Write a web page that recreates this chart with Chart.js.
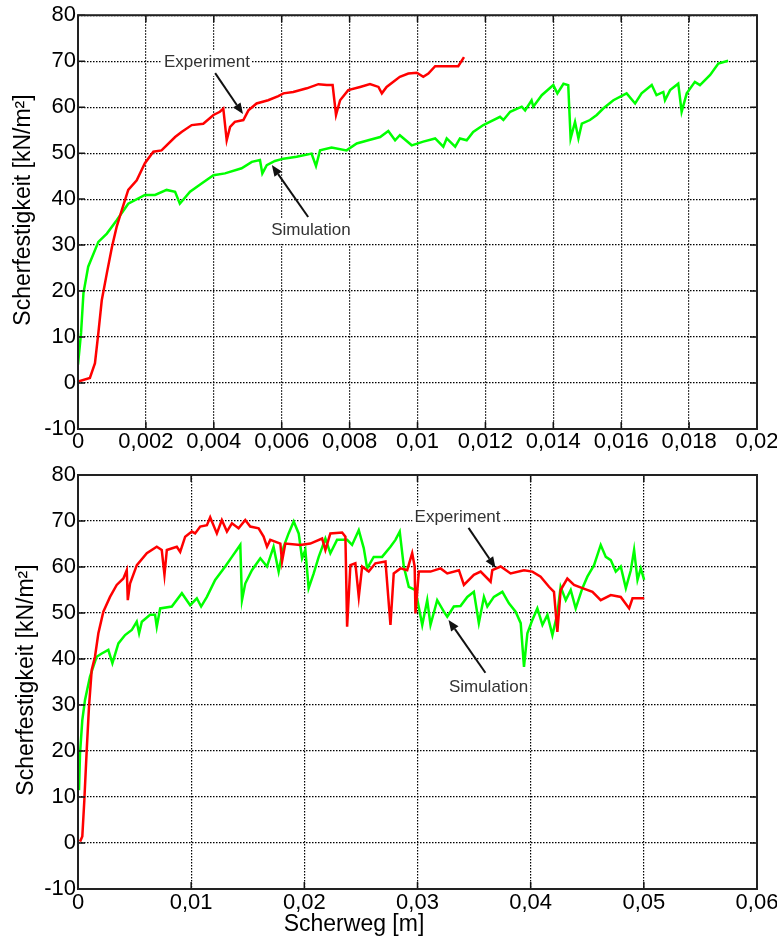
<!DOCTYPE html>
<html lang="de">
<head>
<meta charset="UTF-8">
<title>Scherfestigkeit - Experiment und Simulation</title>
<script src="https://cdn.jsdelivr.net/npm/chart.js"></script>
<style>
  html, body { margin: 0; padding: 0; background: #fff; }
  .wrap { position: relative; width: 777px; height: 940px; }
  .box { position: absolute; left: 0; width: 777px; }
  #top { top: 0; height: 456px; }
  #bottom { top: 456px; height: 484px; }
</style>
</head>
<body>
<div class="wrap">
  <div class="box" id="top"><canvas id="chartTop"></canvas></div>
  <div class="box" id="bottom"><canvas id="chartBottom"></canvas></div>
</div>

<script>
// tick labels
const yLabels = ['-10', '0', '10', '20', '30', '40', '50', '60', '70', '80'];
const topXLabels = ['0', '0,002', '0,004', '0,006', '0,008', '0,01', '0,012', '0,014', '0,016', '0,018', '0,02'];
const bottomXLabels = ['0', '0,01', '0,02', '0,03', '0,04', '0,05', '0,06'];

// upper chart: Experiment (red)
const topExpX = [
  0, 0.00035, 0.0005, 0.0006, 0.0007, 0.00085, 0.001, 0.00114, 0.00129, 0.00148,
  0.00173, 0.00197, 0.00222, 0.00246, 0.00286, 0.00305, 0.00335, 0.00369, 0.00399, 0.00418,
  0.00428, 0.00438, 0.00448, 0.00462, 0.00487, 0.00502, 0.00526, 0.0056, 0.0059, 0.00605,
  0.00634, 0.00674, 0.00708, 0.00733, 0.0075, 0.0076, 0.00772, 0.00796, 0.00831, 0.0086,
  0.00885, 0.00895, 0.00909, 0.00948, 0.00973, 0.00998, 0.01017, 0.01032, 0.01052, 0.0112,
  0.01137
];
const topExpY = [
  0.3, 1.1, 4.3, 10.9, 18, 23.9, 29.6, 34, 37.6, 42,
  44.1, 47.8, 50.3, 50.6, 53.5, 54.6, 56.1, 56.4, 58.3, 59,
  59.7, 52.8, 55.7, 56.8, 57.2, 59.3, 60.8, 61.5, 62.4, 63,
  63.3, 64.1, 65, 64.8, 64.8, 58.3, 61.5, 63.7, 64.4, 65,
  64.4, 63, 64.4, 66.6, 67.3, 67.5, 66.6, 67.3, 68.9, 68.9,
  70.9
];

// upper chart: Simulation (green)
const topSimX = [
  0, 0.00009, 0.00016, 0.0003, 0.0006, 0.00085, 0.00114, 0.00148, 0.00197, 0.00227,
  0.00261, 0.00286, 0.003, 0.0033, 0.00364, 0.00399, 0.00433, 0.00482, 0.00512, 0.00536,
  0.00543, 0.00556, 0.0058, 0.00605, 0.00644, 0.00688, 0.00701, 0.00713, 0.00747, 0.00791,
  0.00821, 0.00855, 0.0089, 0.00914, 0.00934, 0.00948, 0.00983, 0.01017, 0.01052, 0.01076,
  0.01086, 0.01111, 0.01125, 0.01145, 0.01164, 0.01194, 0.01243, 0.01253, 0.01273, 0.01307,
  0.01317, 0.01336, 0.01341, 0.01366, 0.014, 0.01412, 0.0143, 0.01444, 0.01451, 0.01464,
  0.01474, 0.01484, 0.01508, 0.01528, 0.01547, 0.01577, 0.01616, 0.01641, 0.0166, 0.0169,
  0.01704, 0.01724, 0.01729, 0.01744, 0.01768, 0.01778, 0.01793, 0.01817, 0.01832, 0.01862,
  0.01886, 0.01915
];
const topSimY = [
  4, 10.9, 19.5, 25.3, 30.7, 32.5, 35.4, 39, 40.9, 40.9,
  42, 41.6, 39, 41.6, 43.4, 45.2, 45.6, 46.7, 48.1, 48.5,
  45.6, 47.4, 48.3, 48.8, 49.2, 49.9, 47.2, 50.6, 51.2, 50.6,
  52.1, 52.8, 53.5, 54.8, 52.8, 53.9, 51.7, 52.5, 53.2, 51.4,
  53.2, 51.4, 53.2, 52.8, 54.6, 56.1, 57.9, 57.2, 59, 60.1,
  59.3, 61.5, 60.1, 62.6, 64.8, 63, 65.1, 64.8, 53.2, 56.8,
  53.2, 56.4, 57.2, 58.3, 59.7, 61.5, 63, 60.8, 63, 64.8,
  62.6, 63.3, 61.5, 63.7, 65.1, 59, 63, 65.5, 64.8, 67,
  69.5, 70.1
];

// lower chart: Experiment (red)
const botExpX = [
  0.00018, 0.00038, 0.00056, 0.00077, 0.00097, 0.00121, 0.0015, 0.0018, 0.00224, 0.00283,
  0.00342, 0.00401, 0.00431, 0.0044, 0.0046, 0.0052, 0.00608, 0.00696, 0.0074, 0.00764,
  0.00785, 0.00873, 0.00903, 0.00947, 0.01006, 0.01035, 0.0108, 0.01139, 0.01168, 0.01227,
  0.01271, 0.01316, 0.0136, 0.01419, 0.01478, 0.01522, 0.01596, 0.0164, 0.0167, 0.01699,
  0.01788, 0.01803, 0.01832, 0.01965, 0.02053, 0.02157, 0.02186, 0.0223, 0.02334, 0.02363,
  0.02378, 0.02407, 0.02451, 0.02481, 0.02511, 0.02569, 0.02628, 0.02717, 0.02761, 0.0279,
  0.0285, 0.02909, 0.02953, 0.02975, 0.02982, 0.03012, 0.03115, 0.03204, 0.03263, 0.03366,
  0.0341, 0.03498, 0.03558, 0.03646, 0.03661, 0.03735, 0.03823, 0.03941, 0.04015, 0.04088,
  0.04162, 0.04206, 0.04236, 0.04265, 0.04324, 0.04383, 0.04457, 0.04546, 0.04619, 0.04708,
  0.04796, 0.0487, 0.049, 0.05003
];
const botExpY = [
  0.3, 1.4, 9.3, 20.2, 29.6, 37.6, 40.5, 45.6, 50.3, 53.5,
  56.1, 57.5, 59.3, 52.8, 56.4, 60.4, 63, 64.4, 63.7, 58.3,
  63.7, 64.4, 63.3, 66.6, 67.7, 67.3, 68.8, 69.1, 70.8, 67.3,
  70.2, 67.7, 69.5, 68.4, 70.2, 68.8, 68.4, 66.6, 64.4, 65.9,
  65.1, 61.2, 65.1, 64.8, 65.1, 66.2, 63.7, 67.3, 67.5, 66.6,
  47, 60.4, 60.8, 53.5, 60.1, 59, 60.8, 61.2, 47.4, 58.6,
  59.7, 59.3, 63, 60.1, 49.9, 59, 59, 59.7, 58.6, 59.3,
  56.1, 58.3, 59, 56.8, 59.3, 60.1, 58.6, 59.3, 59, 57.9,
  55.7, 54.6, 45.9, 55, 57.5, 56.1, 55.4, 54.6, 52.8, 53.9,
  53.5, 51, 53.2, 53.2
];

// lower chart: Simulation (green)
const botSimX = [
  0.00009, 0.00018, 0.00038, 0.00062, 0.00106, 0.00165, 0.0021, 0.00268, 0.00304, 0.00357,
  0.00416, 0.00475, 0.00519, 0.0054, 0.00564, 0.00637, 0.00681, 0.00696, 0.00726, 0.00829,
  0.00918, 0.00991, 0.0105, 0.01088, 0.01139, 0.01212, 0.01301, 0.0136, 0.01434, 0.01449,
  0.01478, 0.01537, 0.01611, 0.0167, 0.01728, 0.01773, 0.01817, 0.01861, 0.01906, 0.0195,
  0.0198, 0.02009, 0.02038, 0.02083, 0.02127, 0.02186, 0.0223, 0.02289, 0.02378, 0.02422,
  0.02481, 0.02525, 0.02555, 0.02613, 0.02687, 0.02761, 0.02805, 0.02843, 0.02879, 0.02923,
  0.02982, 0.03042, 0.03086, 0.03115, 0.03174, 0.03233, 0.03263, 0.03321, 0.0338, 0.0344,
  0.03498, 0.03542, 0.03587, 0.03617, 0.03675, 0.0375, 0.03808, 0.03867, 0.03912, 0.03941,
  0.03971, 0.04015, 0.04059, 0.04104, 0.04148, 0.04192, 0.04236, 0.04265, 0.0431, 0.04354,
  0.04398, 0.04457, 0.04501, 0.0456, 0.04619, 0.04664, 0.04708, 0.04752, 0.04796, 0.04841,
  0.04885, 0.04914, 0.04944, 0.04973, 0.05003
];
const botSimY = [
  11.5, 19.5, 26.7, 31.1, 36.2, 40.5, 41.2, 42, 39.1, 43.4,
  45.2, 46.3, 48.1, 45.6, 48.1, 49.6, 49.6, 47, 51, 51.4,
  54.3, 51.7, 53.2, 51.4, 53.5, 57.2, 60.1, 62.2, 64.8, 52.8,
  56.4, 59.3, 61.9, 60.1, 64.4, 59, 64.4, 67.3, 69.9, 67.3,
  61.9, 63.7, 55.4, 58.6, 62.2, 66.2, 63, 65.9, 65.9, 64.8,
  68, 64.1, 59.7, 62.2, 62.2, 64.4, 65.9, 67.7, 60.1, 55.7,
  55, 47.4, 52.8, 47.4, 52.8, 50.3, 49.2, 51.4, 51.5, 53.5,
  54.6, 47.8, 53.5, 51.4, 53.5, 54.6, 52.1, 50.3, 47.8, 38.3,
  45.6, 48.5, 51, 47.4, 49.6, 45.2, 49.9, 55.7, 52.8, 55,
  51, 55.4, 57.9, 60.4, 64.8, 62.2, 61.5, 59, 60.1, 55.4,
  59.3, 63.7, 57.2, 59.7, 57.2
];

// annotation text + arrow (data units): text at (tx,ty), arrow from (x0,y0) to (x1,y1)
const topNotes = [
  { text: 'Experiment', tx: 0.0038, ty: 69.8, x0: 0.00404, y0: 67.4, x1: 0.00486, y1: 58.5 },
  { text: 'Simulation', tx: 0.00686, ty: 33.3, x0: 0.00678, y0: 36.1, x1: 0.00571, y1: 47.4 }
];
const bottomNotes = [
  { text: 'Experiment', tx: 0.03354, ty: 70.9, x0: 0.03451, y0: 68.5, x1: 0.0369, y1: 59.8 },
  { text: 'Simulation', tx: 0.03628, ty: 33.9, x0: 0.036, y0: 37, x1: 0.03274, y1: 48.5 }
];

const yTitle = 'Scherfestigkeit [kN/m²]';
const xTitle = 'Scherweg [m]';

Chart.defaults.font.family = "'Liberation Sans', Arial, sans-serif";
Chart.defaults.color = '#000';

function toPoints(xs, ys) {
  return xs.map((x, i) => ({ x: x, y: ys[i] }));
}

// solid frame round the plot + short inward ticks (matlab style)
const framePlugin = {
  id: 'frame',
  afterDatasetsDraw(chart) {
    const { ctx, chartArea: a, scales } = chart;
    ctx.save();
    ctx.strokeStyle = '#111';
    ctx.lineWidth = 1.5;
    ctx.beginPath();
    scales.x.ticks.forEach(t => {
      const px = scales.x.getPixelForValue(t.value);
      ctx.moveTo(px, a.bottom); ctx.lineTo(px, a.bottom - 7);
      ctx.moveTo(px, a.top); ctx.lineTo(px, a.top + 7);
    });
    scales.y.ticks.forEach(t => {
      const py = scales.y.getPixelForValue(t.value);
      ctx.moveTo(a.left, py); ctx.lineTo(a.left + 7, py);
      ctx.moveTo(a.right, py); ctx.lineTo(a.right - 7, py);
    });
    ctx.stroke();
    ctx.strokeStyle = '#222';
    ctx.lineWidth = 2;
    ctx.strokeRect(a.left, a.top, a.right - a.left, a.bottom - a.top);
    ctx.restore();
  }
};

// text labels with arrows, and the axis titles
const notesPlugin = {
  id: 'notes',
  afterDatasetsDraw(chart, args, opts) {
    const { ctx, scales: { x, y } } = chart;
    ctx.save();
    ctx.font = "17px 'Liberation Sans', Arial, sans-serif";
    ctx.textAlign = 'center';
    ctx.textBaseline = 'middle';
    (opts.items || []).forEach(n => {
      const tx = x.getPixelForValue(n.tx), ty = y.getPixelForValue(n.ty);
      const w = ctx.measureText(n.text).width;
      ctx.fillStyle = '#fff';
      ctx.fillRect(tx - w / 2 - 2, ty - 11, w + 4, 25);
      ctx.fillStyle = '#333';
      ctx.fillText(n.text, tx, ty);

      const ax0 = x.getPixelForValue(n.x0), ay0 = y.getPixelForValue(n.y0);
      const ax1 = x.getPixelForValue(n.x1), ay1 = y.getPixelForValue(n.y1);
      const ang = Math.atan2(ay1 - ay0, ax1 - ax0);
      const hl = 11, hw = 4.5;
      const bx = ax1 - hl * Math.cos(ang), by = ay1 - hl * Math.sin(ang);
      ctx.strokeStyle = '#111';
      ctx.lineWidth = 2;
      ctx.beginPath();
      ctx.moveTo(ax0, ay0);
      ctx.lineTo(bx, by);
      ctx.stroke();
      ctx.fillStyle = '#111';
      ctx.beginPath();
      ctx.moveTo(ax1, ay1);
      ctx.lineTo(bx + hw * Math.sin(ang), by - hw * Math.cos(ang));
      ctx.lineTo(bx - hw * Math.sin(ang), by + hw * Math.cos(ang));
      ctx.closePath();
      ctx.fill();
    });

    ctx.fillStyle = '#000';
    ctx.font = "23px 'Liberation Sans', Arial, sans-serif";
    if (opts.yTitle) {
      ctx.save();
      ctx.translate(opts.yTitle.x, opts.yTitle.y);
      ctx.rotate(-Math.PI / 2);
      ctx.fillText(opts.yTitle.text, 0, 0);
      ctx.restore();
    }
    if (opts.xTitle) {
      ctx.fillText(opts.xTitle.text, opts.xTitle.x, opts.xTitle.y);
    }
    ctx.restore();
  }
};

function makeChart(id, c) {
  return new Chart(document.getElementById(id), {
    type: 'line',
    data: {
      datasets: [
        { label: 'Experiment', data: toPoints(c.expX, c.expY), borderColor: '#ff0000', borderWidth: 2.5 },
        { label: 'Simulation', data: toPoints(c.simX, c.simY), borderColor: '#00ff00', borderWidth: 2.5 }
      ]
    },
    options: {
      responsive: true,
      maintainAspectRatio: false,
      animation: false,
      layout: { padding: { top: c.padTop, right: 20, left: 0, bottom: 0 } },
      elements: { point: { radius: 0 }, line: { tension: 0 } },
      plugins: {
        legend: { display: false },
        tooltip: { enabled: false },
        notes: { items: c.notes, yTitle: c.yTitle, xTitle: c.xTitle }
      },
      scales: {
        x: {
          type: 'linear',
          min: 0,
          max: c.xMax,
          ticks: {
            stepSize: c.xStep,
            autoSkip: false,
            maxRotation: 0,
            padding: c.xPad,
            font: { size: 22 },
            color: '#000',
            callback: v => c.xLabels[Math.round(v / c.xStep)]
          },
          grid: { color: '#000', lineWidth: 1.2, drawTicks: false },
          border: { display: false, dash: [1.5, 1.5] },
          afterFit: s => {
            s.height = c.xHeight;
            s.paddingRight = Math.min(s.paddingRight, 20);
          }
        },
        y: {
          min: -10,
          max: 80,
          ticks: {
            stepSize: 10,
            padding: 2,
            font: { size: 22 },
            color: '#000',
            callback: v => yLabels[Math.round((v + 10) / 10)]
          },
          grid: { color: '#000', lineWidth: 1.2, drawTicks: false },
          border: { display: false, dash: [1.5, 1.5] },
          afterFit: s => { s.width = 78; }
        }
      }
    },
    plugins: [framePlugin, notesPlugin]
  });
}

makeChart('chartTop', {
  expX: topExpX, expY: topExpY, simX: topSimX, simY: topSimY,
  xMax: 0.02, xStep: 0.002, xLabels: topXLabels,
  padTop: 15, xHeight: 27, xPad: 0,
  notes: topNotes,
  yTitle: { text: yTitle, x: 24, y: 210 }
});

makeChart('chartBottom', {
  expX: botExpX, expY: botExpY, simX: botSimX, simY: botSimY,
  xMax: 0.06, xStep: 0.01, xLabels: bottomXLabels,
  padTop: 19, xHeight: 51, xPad: 1,
  notes: bottomNotes,
  yTitle: { text: yTitle, x: 27, y: 224 },
  xTitle: { text: xTitle, x: 354, y: 469 }
});
</script>
</body>
</html>
